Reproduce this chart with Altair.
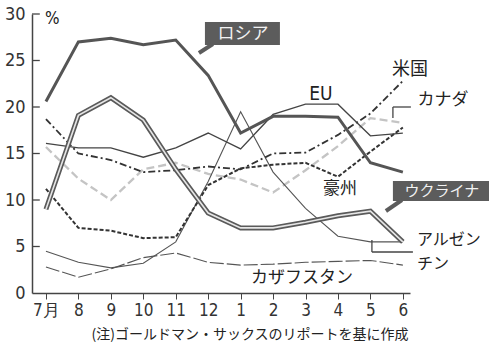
import altair as alt
import pandas as pd

months = ["7月", "8", "9", "10", "11", "12", "1", "2", "3", "4", "5", "6"]
russia = [20.6, 27.0, 27.4, 26.7, 27.2, 23.4, 17.2, 19.0, 19.0, 18.9, 14.0, 13.0]
ukraine = [9.0, 19.1, 21.0, 18.6, 13.3, 8.6, 7.0, 7.0, 7.6, 8.3, 8.8, 5.5]
eu = [16.1, 15.6, 15.6, 14.6, 15.6, 17.2, 15.5, 19.2, 20.3, 20.3, 16.9, 17.2]
usa = [18.7, 15.0, 14.3, 13.0, 13.2, 13.6, 13.3, 15.0, 15.1, 17.0, 19.3, 22.8]
canada = [15.7, 12.3, 10.0, 13.3, 14.0, 12.8, 12.2, 10.8, 13.2, 15.8, 18.8, 18.3]
australia = [11.2, 7.0, 6.7, 5.9, 6.0, 11.6, 13.4, 13.8, 14.0, 12.5, 15.2, 17.8]
argentina = [4.5, 3.3, 2.7, 3.2, 5.5, 12.0, 19.5, 13.0, 9.1, 6.1, 5.5, 5.5]
kazakhstan = [2.8, 1.7, 2.6, 3.8, 4.3, 3.3, 3.0, 3.1, 3.3, 3.4, 3.5, 3.0]
y_ticks = [0, 5, 10, 15, 20, 25, 30]

series = {
    "ロシア": russia, "ウクライナ": ukraine, "EU": eu, "米国": usa,
    "カナダ": canada, "豪州": australia, "アルゼンチン": argentina,
    "カザフスタン": kazakhstan,
}
rows = []
for name, vals in series.items():
    for i, v in enumerate(vals):
        rows.append({"i": i, "v": v, "s": name})
df = pd.DataFrame(rows)

NUMFONT = "Liberation Sans Narrow, DejaVu Sans Condensed, Liberation Sans, sans-serif"
JPFONT = "Noto Sans CJK JP"

xs = alt.Scale(domain=[-0.43, 11.22], nice=False, zero=False)
ys = alt.Scale(domain=[0, 30], nice=False)

label_expr = "[" + ",".join("'%s'" % m for m in months) + "][datum.value]"

x_axis = alt.Axis(values=list(range(12)), labelExpr=label_expr,
                  title=None, grid=False, tickSize=6, tickColor="#444",
                  domainColor="#444", domainWidth=1.5, labelFont=NUMFONT,
                  labelFontSize=17, labelColor="#333", labelPadding=3,
                  labelFlush=False, labelOverlap=False, labelBound=False)
y_axis = alt.Axis(values=y_ticks, title=None, grid=False, tickSize=0,
                  domainColor="#444", domainWidth=1.5, labelFont=NUMFONT,
                  labelFontSize=18, labelColor="#333", labelPadding=7,
                  labelOverlap=False)

def AX(field):
    return alt.X(field, scale=xs, axis=x_axis, title=None)

def AY(field):
    return alt.Y(field, scale=ys, axis=y_axis, title=None)

styles = [
    ("カナダ", dict(stroke="#c4c4c4", strokeWidth=2.3, strokeDash=[8, 4])),
    ("カザフスタン", dict(stroke="#555", strokeWidth=1.1, strokeDash=[14, 3])),
    ("アルゼンチン", dict(stroke="#555", strokeWidth=1.1)),
    ("豪州", dict(stroke="#333", strokeWidth=2.0, strokeDash=[4, 2])),
    ("米国", dict(stroke="#333", strokeWidth=1.8, strokeDash=[7, 3, 2, 3])),
    ("EU", dict(stroke="#444", strokeWidth=1.3)),
    ("ロシア", dict(stroke="#555", strokeWidth=3.0)),
]

layers = []
for name, st in styles:
    layers.append(alt.Chart(df).transform_filter(alt.datum.s == name)
                  .mark_line(**st).encode(x=AX("i:Q"), y=AY("v:Q")))
# Ukraine double line
layers.append(alt.Chart(df).transform_filter(alt.datum.s == "ウクライナ")
              .mark_line(stroke="#5a5a5a", strokeWidth=5).encode(x=AX("i:Q"), y=AY("v:Q")))
layers.append(alt.Chart(df).transform_filter(alt.datum.s == "ウクライナ")
              .mark_line(stroke="#e6e6e6", strokeWidth=1.6).encode(x=AX("i:Q"), y=AY("v:Q")))

# inside y ticks
tick_df = pd.DataFrame({"v": y_ticks[1:], "x0": -0.43, "x1": -0.19})
layers.append(alt.Chart(tick_df).mark_rule(stroke="#444", strokeWidth=1.3).encode(
    x=AX("x0:Q"), x2="x1:Q", y=AY("v:Q")))

def px(x):
    return (x - 46) / 32.45

def py(y):
    return (293 - y) / 9.3

# label boxes
box_df = pd.DataFrame([
    {"x0": px(205), "x1": px(280), "y0": py(22), "y1": py(45)},
    {"x0": px(393), "x1": px(492), "y0": py(181), "y1": py(201)},
])
layers.append(alt.Chart(box_df).mark_rect(fill="#5c5c5c").encode(
    x=AX("x0:Q"), x2="x1:Q", y=AY("y0:Q"), y2="y1:Q"))

# pointers and brackets
ptr_df = pd.DataFrame([
    {"x0": px(213), "y0": py(44), "x1": px(199), "y1": py(53)},
    {"x0": px(402), "y0": py(200), "x1": px(386), "y1": py(211)},
])
layers.append(alt.Chart(ptr_df).mark_rule(stroke="#5c5c5c", strokeWidth=4).encode(
    x=AX("x0:Q"), x2="x1:Q", y=AY("y0:Q"), y2="y1:Q"))

br_df = pd.DataFrame([
    {"x0": px(393), "y0": py(118), "x1": px(393), "y1": py(107)},
    {"x0": px(393), "y0": py(107), "x1": px(411), "y1": py(107)},
    {"x0": px(372), "y0": py(240), "x1": px(372), "y1": py(252)},
    {"x0": px(372), "y0": py(252), "x1": px(413), "y1": py(252)},
])
layers.append(alt.Chart(br_df).mark_rule(stroke="#444", strokeWidth=1.3).encode(
    x=AX("x0:Q"), x2="x1:Q", y=AY("y0:Q"), y2="y1:Q"))

# text labels
txt = [
    ("ロシア", 243, 34, 17, "#f2f2f2", "center", JPFONT),
    ("ウクライナ", 442, 191, 15, "#f2f2f2", "center", JPFONT),
    ("米国", 410, 70, 18, "#222", "center", JPFONT),
    ("カナダ", 443, 100, 17, "#222", "center", JPFONT),
    ("EU", 321, 94, 19, "#222", "center", NUMFONT),
    ("豪州", 340, 189, 17, "#222", "center", JPFONT),
    ("アルゼン", 417, 240, 16, "#222", "left", JPFONT),
    ("チン", 417, 264, 16, "#222", "left", JPFONT),
    ("カザフスタン", 302, 278, 17, "#222", "center", JPFONT),
    ("%", 45, 19, 17, "#222", "left", NUMFONT),
    ("(注)ゴールドマン・サックスのリポートを基に作成", 250, 335, 14, "#222", "center", JPFONT),
]
for t, x, y, fs, col, al, fnt in txt:
    layers.append(alt.Chart(pd.DataFrame({"t": [t], "x": [px(x)], "y": [py(y)]})).mark_text(
        fontSize=fs, color=col, align=al, baseline="middle", font=fnt).encode(
        x=AX("x:Q"), y=AY("y:Q"), text="t:N"))

chart = alt.layer(*layers).properties(
    width=378, height=279,
    padding={"left": 32, "top": 14, "right": 79, "bottom": 58},
    autosize=alt.AutoSizeParams(type="none"),
    background="white",
).configure_view(stroke=None).configure_axis(labelOverlap=False)

chart.save("out.html", embed_options={"renderer": "svg", "actions": False})
